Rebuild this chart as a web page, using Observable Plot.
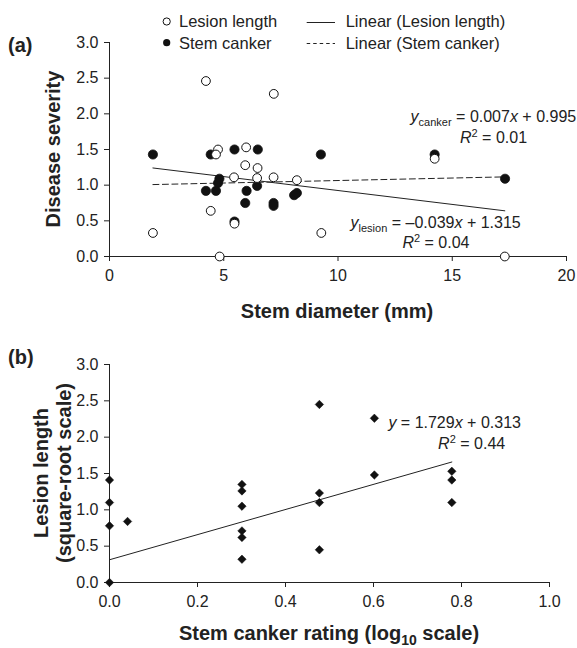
<!DOCTYPE html>
<html><head><meta charset="utf-8">
<script src="https://cdn.jsdelivr.net/npm/d3@7"></script>
<script src="https://cdn.jsdelivr.net/npm/@observablehq/plot@0.6"></script>
<style>
body{margin:0;background:#fff;}
#wrap{position:relative;width:577px;height:648px;overflow:hidden;background:#fff;font-family:"Liberation Sans",Arial,sans-serif;color:#222}
#wrap > svg{position:absolute;left:0}
</style></head><body><div id="wrap"></div>
<script>
// Panel (a): stem diameter vs disease severity
const lesionDiameter = [4.22,7.19,4.75,4.66,5.98,5.94,6.48,5.45,6.46,7.18,8.20,4.43,5.47,1.90,9.27,4.82,14.23,17.30];
const lesionSeverity = [2.46,2.28,1.50,1.43,1.53,1.28,1.24,1.11,1.10,1.11,1.07,0.64,0.46,0.33,0.33,0.00,1.37,0.00];
const cankerDiameter = [1.90,4.43,5.47,6.49,9.25,4.81,4.75,4.22,4.66,6.00,6.46,5.94,7.18,7.18,8.08,8.20,5.47,14.23,17.31];
const cankerSeverity = [1.43,1.43,1.50,1.50,1.43,1.09,1.03,0.92,0.92,0.92,0.99,0.75,0.75,0.71,0.86,0.89,0.49,1.43,1.09];
// Panel (b): stem canker rating (log10) vs lesion length (sqrt)
const cankerRating = [0,0,0,0,0.041,0.301,0.301,0.301,0.301,0.301,0.301,0.477,0.477,0.477,0.477,0.602,0.602,0.778,0.778,0.778];
const lesionSqrt   = [1.41,1.10,0.78,0,0.84,1.35,1.26,1.05,0.71,0.62,0.32,2.45,1.23,1.10,0.45,2.26,1.48,1.53,1.41,1.10];
// Reported linear fits [slope, intercept]
const lesionFit = [-0.039, 1.315];
const cankerFit = [0.007, 0.995];
const panelBFit = [1.729, 0.313];
// Tick values
const xTicksA = [0,5,10,15,20];
const yTicks = [0,0.5,1,1.5,2,2.5,3];
const xTicksB = [0,0.2,0.4,0.6,0.8,1.0];

const font = "Liberation Sans, Arial, sans-serif";
const ink = "#222";
const wrap = document.getElementById("wrap");

function fitLine(xs, coef){
  const [a,b] = d3.extent(xs);
  return [a,b].map(x => ({x, y: coef[0]*x + coef[1]}));
}
const ptsLesion = lesionDiameter.map((x,i)=>({x, y: lesionSeverity[i]}));
const ptsCanker = cankerDiameter.map((x,i)=>({x, y: cankerSeverity[i]}));
const ptsB = cankerRating.map((x,i)=>({x, y: lesionSqrt[i]}));

const common = {
  style:{fontFamily:font, fontSize:"16px", color:ink, background:"transparent", overflow:"visible"}
};

const plotA = Plot.plot({
  ...common,
  width:577, height:330, marginLeft:109, marginRight:11, marginTop:42, marginBottom:74,
  x:{domain:[0,20], ticks:xTicksA, tickFormat:"d", tickSize:5, tickPadding:8, label:null, line:true},
  y:{domain:[0,3], ticks:yTicks, tickFormat:d3.format(".1f"), tickSize:5, tickPadding:6, label:null, line:true},
  marks:[
    Plot.line(fitLine(lesionDiameter, lesionFit), {x:"x", y:"y", stroke:ink, strokeWidth:1}),
    Plot.line(fitLine(cankerDiameter, cankerFit), {x:"x", y:"y", stroke:ink, strokeWidth:1, strokeDasharray:"6,3.5"}),
    Plot.dot(ptsCanker, {x:"x", y:"y", r:4.6, fill:"#111", stroke:"#111", strokeWidth:0.8}),
    Plot.dot(ptsLesion, {x:"x", y:"y", r:4.4, fill:"white", stroke:"#111", strokeWidth:1})
  ]
});
plotA.style.top = "0px";
wrap.appendChild(plotA);

const plotB = Plot.plot({
  ...common,
  width:577, height:318, marginLeft:109, marginRight:28, marginTop:34, marginBottom:66,
  x:{domain:[0,1], ticks:xTicksB, tickFormat:d3.format(".1f"), tickSize:5, tickPadding:8, label:null, line:true},
  y:{domain:[0,3], ticks:yTicks, tickFormat:d3.format(".1f"), tickSize:5, tickPadding:6, label:null, line:true},
  marks:[
    Plot.line(fitLine(cankerRating, panelBFit), {x:"x", y:"y", stroke:ink, strokeWidth:1}),
    Plot.dot(ptsB, {x:"x", y:"y", symbol:"diamond2", r:3.8, fill:"#111", stroke:"#111", strokeWidth:0.5})
  ]
});
plotB.style.top = "330px";
wrap.appendChild(plotB);

// Equation annotations placed through each plot's own scales
function eq(plot, xv, yv, parts){
  const sx = plot.scale("x"), sy = plot.scale("y");
  const t = d3.select(plot).append("text")
    .attr("x", sx.apply(xv)).attr("y", sy.apply(yv))
    .attr("text-anchor", "start")
    .attr("font-family", font).attr("font-size", 16).attr("fill", ink);
  for (const p of parts){
    const s = t.append("tspan").text(p.t);
    if (p.i) s.attr("font-style","italic");
    if (p.sub) s.attr("font-size", 11).attr("dy", 4);
    if (p.sup) s.attr("font-size", 11).attr("dy", -6);
    if (p.back) s.attr("dy", p.back);
  }
}
eq(plotA, 13.2, 1.884, [{t:"y", i:1},{t:"canker", sub:1},{t:" = 0.007", back:-4},{t:"x", i:1},{t:" + 0.995"}]);
eq(plotA, 15.36, 1.581, [{t:"R", i:1},{t:"2", sup:1},{t:" = 0.01", back:6}]);
eq(plotA, 10.57, 0.388, [{t:"y", i:1},{t:"lesion", sub:1},{t:" = \u20130.039", back:-4},{t:"x", i:1},{t:" + 1.315"}]);
eq(plotA, 12.84, 0.108, [{t:"R", i:1},{t:"2", sup:1},{t:" = 0.04", back:6}]);
eq(plotB, 0.635, 2.117, [{t:"y", i:1},{t:" = 1.729"},{t:"x", i:1},{t:" + 0.313"}]);
eq(plotB, 0.748, 1.828, [{t:"R", i:1},{t:"2", sup:1},{t:" = 0.44", back:6}]);

// Overlay: panel labels, axis titles, legend
const ov = d3.select(wrap).append("svg").attr("width",577).attr("height",648)
  .style("top","0px").style("pointer-events","none")
  .attr("font-family", font).attr("fill", ink);

ov.append("text").attr("x",8).attr("y",52).attr("font-size",20).attr("font-weight","bold").text("(a)");
ov.append("text").attr("x",8).attr("y",364).attr("font-size",20).attr("font-weight","bold").text("(b)");

ov.append("text").attr("transform","translate(60,149) rotate(-90)").attr("text-anchor","middle")
  .attr("font-size",20).attr("font-weight","bold").text("Disease severity");
ov.append("text").attr("transform","translate(48,473) rotate(-90)").attr("text-anchor","middle")
  .attr("font-size",20).attr("font-weight","bold").text("Lesion length");
ov.append("text").attr("transform","translate(71,473) rotate(-90)").attr("text-anchor","middle")
  .attr("font-size",20).attr("font-weight","bold").text("(square-root scale)");

ov.append("text").attr("x",337).attr("y",318).attr("text-anchor","middle")
  .attr("font-size",20).attr("font-weight","bold").text("Stem diameter (mm)");
const tb = ov.append("text").attr("x",329).attr("y",640).attr("text-anchor","middle")
  .attr("font-size",20).attr("font-weight","bold");
tb.append("tspan").text("Stem canker rating (log");
tb.append("tspan").attr("font-size",14).attr("dy",5).text("10");
tb.append("tspan").attr("dy",-5).text(" scale)");

// Legend
const lg = ov.append("g").attr("font-size",16.5);
lg.append("circle").attr("cx",166.7).attr("cy",21.5).attr("r",3.6).attr("fill","white").attr("stroke","#111").attr("stroke-width",1);
lg.append("text").attr("x",179).attr("y",27).text("Lesion length");
lg.append("circle").attr("cx",166.7).attr("cy",42.7).attr("r",3.6).attr("fill","#111");
lg.append("text").attr("x",179).attr("y",48.5).text("Stem canker");
lg.append("line").attr("x1",306.7).attr("x2",335).attr("y1",22.5).attr("y2",22.5).attr("stroke",ink).attr("stroke-width",1);
lg.append("text").attr("x",345.7).attr("y",27).text("Linear (Lesion length)");
lg.append("line").attr("x1",306.7).attr("x2",335).attr("y1",43.5).attr("y2",43.5).attr("stroke",ink).attr("stroke-width",1).attr("stroke-dasharray","3.5,3");
lg.append("text").attr("x",345.7).attr("y",48.5).text("Linear (Stem canker)");
</script>
</body></html>
